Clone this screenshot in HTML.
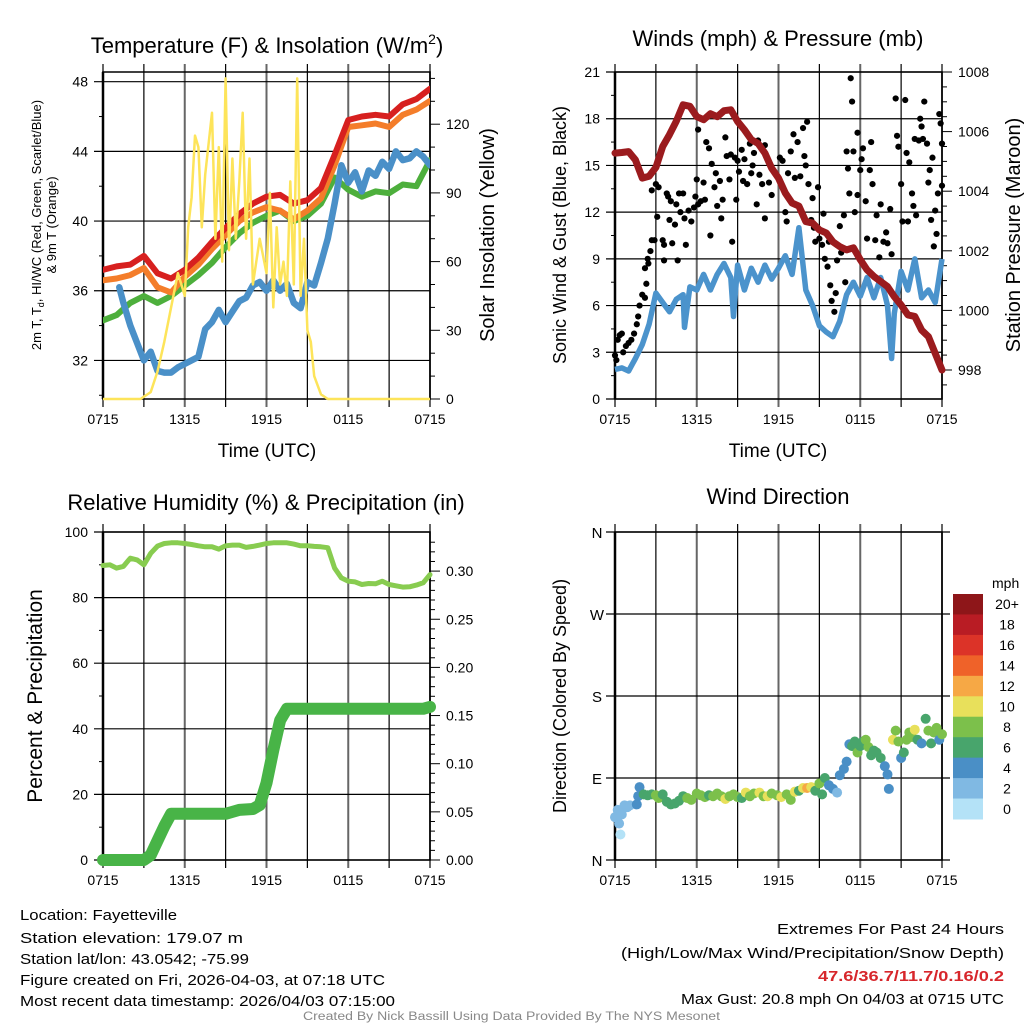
<!DOCTYPE html>
<html><head><meta charset="utf-8">
<style>
html,body{margin:0;padding:0;background:#fff;}
svg{display:block;font-family:"Liberation Sans",sans-serif;}
</style></head>
<body>
<svg id="s" width="1024" height="1024" viewBox="0 0 1024 1024"></svg>
<script>
// ---------- DATA ----------
const hours = [0,1,2,3,4,5,6,7,8,9,10,11,12,13,14,15,16,17,18,19,20,21,22,23,24];
const tempRed = [37.2,37.4,37.5,38.0,37.0,36.7,37.2,37.9,38.8,39.6,40.4,41.0,41.4,41.5,41.0,41.2,41.9,43.8,45.8,46.0,46.1,46.0,46.7,47.0,47.6];
const tempOrange = [36.6,36.7,36.9,37.3,36.2,35.9,36.8,37.5,38.4,39.2,40.0,40.5,40.8,40.6,40.1,40.6,41.3,43.2,45.4,45.5,45.6,45.4,46.1,46.4,46.9];
const tempGreen = [34.3,34.6,35.3,35.7,35.3,35.7,36.3,36.9,37.6,38.5,39.3,39.9,40.3,40.6,40.0,40.3,41.0,42.5,41.8,41.4,41.7,41.6,42.1,42.0,43.5];
const halfHours = [1.2,1.5,2,2.5,3,3.5,4,4.5,5,5.5,6,6.5,7,7.5,8,8.5,9,9.5,10,10.5,11,11.5,12,12.5,13,13.5,14,14.5,15,15.5,16,16.5,17,17.5,18,18.5,19,19.5,20,20.5,21,21.5,22,22.5,23,23.5,24];
const dewBlue = [36.2,35.3,34.0,33.0,32.0,32.5,31.4,31.3,31.3,31.6,31.8,32.0,32.2,33.8,34.2,34.9,34.2,34.8,35.4,35.6,36.3,36.5,36.0,36.6,36.0,36.4,35.3,35.0,36.5,36.3,37.6,39.0,41.0,43.2,42.2,42.8,41.7,42.9,42.6,43.4,43.0,44.0,43.5,43.6,44.0,43.7,43.2];
const solarTimes = [0,2.75,3,3.5,4,4.5,5,5.5,6,6.25,6.5,6.75,7,7.25,7.5,8,8.25,8.5,8.75,9,9.25,9.5,9.75,10,10.25,10.5,10.75,11,11.5,12,12.25,12.5,12.75,13,13.25,13.5,13.75,14,14.25,14.5,14.75,15,15.25,15.5,16,16.5,24];
const solarVals = [0,0,1,3,12,25,40,55,45,75,88,115,110,75,98,125,70,110,60,140,65,105,70,95,125,70,105,50,70,55,90,40,75,50,60,45,95,50,140,45,70,30,25,10,2,0,0];
const windHours = [0,0.5,1,1.5,2,2.5,3,3.5,4,4.5,5,5.1,5.5,6,6.5,7,7.5,8,8.5,8.7,9,9.5,10,10.5,11,11.5,12,12.5,13,13.5,14,14.5,15,15.5,16,16.5,17,17.5,18,18.5,19,19.5,20,20.3,20.5,21,21.5,22,22.5,23,23.5,24];
const windSpeed = [1.9,2.0,1.8,2.6,3.5,4.8,6.8,6.2,5.6,6.4,6.7,4.6,7.2,7.0,8.0,7.0,8.0,8.7,7.8,5.3,8.6,7.0,8.4,7.5,8.6,7.7,8.4,9.2,8.0,11.0,7.0,6.0,4.7,4.3,4.0,5.0,6.7,7.5,6.6,7.8,6.5,7.8,6.0,2.6,5.5,8.2,7.0,9.0,6.5,7.0,6.2,9.0];
const pressure = [1005.28,1005.3,1005.33,1005.05,1004.44,1004.5,1004.8,1005.5,1005.9,1006.35,1006.9,1006.85,1006.5,1006.4,1006.6,1006.5,1006.7,1006.73,1006.34,1006.06,1005.73,1005.6,1005.28,1004.77,1004.44,1003.94,1003.6,1003.5,1002.98,1002.93,1002.7,1002.6,1002.3,1002.14,1002.03,1002.1,1001.7,1001.36,1001.14,1000.97,1000.8,1000.46,1000.18,999.85,999.8,999.34,999.12,998.56,998.0];
const gustTimes = [0,0.1,0.2,0.35,0.5,0.6,0.8,1.0,1.2,1.4,1.6,1.7,1.8,2.0,2.2,2.3,2.2,2.4,2.45,2.6,2.7,2.9,2.7,3.0,3.2,3.1,3.5,3.6,3.6,3.8,3.9,4.0,4.1,4.2,4.4,4.5,4.6,4.7,4.8,5.0,5.1,5.2,5.4,5.6,5.8,5.9,6.0,6.1,6.1,6.3,6.5,6.6,6.7,6.9,7.0,7.1,7.3,7.4,7.5,7.7,7.8,7.9,8.1,8.2,8.4,8.5,8.6,8.8,8.9,9.0,9.1,9.3,9.4,9.5,9.7,9.9,10.0,10.1,10.2,10.4,10.5,10.6,10.8,11.0,11.0,11.3,11.5,11.9,12.1,12.3,12.5,12.6,12.7,12.9,13.1,13.2,13.4,13.6,13.8,13.9,14.0,14.1,14.2,14.4,14.5,14.6,14.7,14.9,15.0,15.2,15.3,15.4,15.6,15.7,15.8,15.9,16.1,16.2,16.3,16.5,16.6,16.8,16.9,17.0,17.1,17.2,17.3,17.4,17.5,17.6,17.8,17.8,18.0,18.1,18.2,18.4,18.5,18.7,18.8,18.9,19.1,19.2,19.4,19.5,19.7,19.9,20.0,20.2,20.3,20.6,20.7,20.8,21.0,21.1,21.3,21.4,21.5,21.6,21.8,21.9,22.0,22.1,22.3,22.4,22.5,22.6,22.7,22.9,23.0,23.1,23.2,23.3,23.4,23.5,23.6,23.7,23.8,23.9,24.0,24.0];
const gustVals = [2.8,2.5,3.8,4.1,4.2,3.0,3.4,3.6,3.8,4.2,4.8,5.3,6.0,6.7,6.5,7.4,8.4,9.0,8.7,9.5,10.2,10.2,13.4,13.8,13.6,11.7,10.2,9.9,8.9,13.2,13.0,11.5,12.7,10.0,11.2,12.5,8.9,13.2,12.0,13.2,11.6,9.9,12.1,11.4,12.3,13.0,14.1,12.5,17.3,12.7,13.9,12.8,16.5,16.1,10.5,15.1,13.6,14.5,12.4,14.0,11.6,12.8,16.8,15.6,14.1,15.7,10.1,15.5,12.8,15.3,14.6,16.0,14.0,15.4,13.8,16.4,14.5,15.0,15.8,12.5,16.6,14.4,13.8,16.3,11.6,13.9,13.1,14.3,15.5,15.3,12.0,11.4,14.5,15.9,17.0,14.2,16.5,14.3,17.4,15.6,15.0,17.8,13.8,11.5,12.9,11.0,10.1,13.6,10.3,9.9,11.9,9.0,8.5,10.1,7.3,6.3,5.6,6.8,8.9,11.1,9.4,11.8,7.5,15.9,14.8,13.2,20.6,19.1,15.9,12.0,13.1,17.1,14.7,15.4,16.1,12.7,10.3,14.7,16.5,13.8,10.2,11.8,9.1,12.5,10.1,10.7,10.0,12.2,9.3,19.3,16.9,16.2,13.8,11.4,19.2,15.8,11.4,15.2,13.2,12.4,16.7,11.8,16.6,18.0,17.5,16.7,19.1,16.4,13.9,14.7,11.5,15.5,9.8,12.1,10.6,13.2,18.3,17.7,13.7,16.4,14.4,15.5,20.8];
const rhVals = [89.8,90,89,89.5,92,91.5,90,93.5,95.7,96.5,96.7,96.7,96.5,96.2,95.8,95.5,95.5,94.8,95.8,96.0,96.0,95.3,95.6,96.0,96.5,96.7,96.7,96.7,96.3,95.8,95.8,95.6,95.5,95.2,89.0,86.0,85.0,84.8,84.0,84.3,84.2,85.0,84.0,83.6,83.2,83.3,83.8,84.5,87.0];
const precipTimes = [0,3.0,3.5,4,4.5,5,9,9.5,10,11,11.5,12,12.5,13,13.5,23.5,24];
const precipVals = [0,0,0.005,0.02,0.035,0.048,0.048,0.05,0.052,0.053,0.057,0.08,0.114,0.145,0.157,0.157,0.159];
const dirTimes = [0,0.2,0.3,0.4,0.5,0.7,0.9,1.1,1.6,1.7,1.8,2.1,2.4,2.7,3.0,3.2,3.5,3.8,4.1,4.4,4.7,5.0,5.3,5.6,6.0,6.3,6.6,6.9,7.2,7.5,7.8,8.1,8.4,8.7,9.0,9.3,9.6,9.9,10.2,10.6,10.9,11.2,11.5,11.9,12.2,12.6,12.9,13.2,13.5,13.8,14.1,14.4,14.7,15.0,15.2,15.4,15.7,16.0,16.3,16.5,16.8,17.0,17.2,17.4,17.6,17.8,18.0,18.2,18.4,18.6,18.8,19.0,19.2,19.5,19.8,20.0,20.1,20.4,20.6,20.8,21.0,21.2,21.4,21.6,21.8,22.0,22.2,22.5,22.8,23.0,23.2,23.4,23.6,23.8,24.0];
const dirVals = [47,55,40,28,50,60,58,60,61,70,80,72,71,72,71,68,72,64,61,62,65,70,68,66,73,71,69,71,70,73,70,67,70,72,69,68,74,70,73,74,70,70,73,71,69,72,66,75,76,79,79,80,76,84,72,90,82,78,74,93,100,108,127,125,130,118,125,130,132,124,115,120,118,112,103,94,78,132,142,130,112,118,132,140,135,143,132,128,155,142,128,140,145,132,138];
const dirSpeeds = [2,2,2,0,2,2,2,2,4,4,4,6,6,6,8,8,6,6,6,6,6,6,8,8,8,8,8,6,8,8,8,10,8,8,8,6,10,8,8,10,8,10,8,8,10,8,8,10,6,10,12,10,6,8,6,6,4,4,2,4,4,4,4,6,6,8,6,6,8,8,6,6,6,6,4,4,4,10,8,8,4,6,8,8,8,10,6,4,6,8,6,8,8,4,8];
const speedBins = ["0","2","4","6","8","10","12","14","16","18","20+"];
const binColors = ["#b4e2f7","#80b9e3","#4a8fc6","#48a56c","#7cc04b","#e8e05b","#f6a845","#ef6229","#dc3328","#b91c24","#8e1619"];
const timeLabels = ["0715","1315","1915","0115","0715"];

// ---------- HELPERS ----------
const NS="http://www.w3.org/2000/svg";
const svg=document.getElementById('s');
function el(tag,attrs,parent){const e=document.createElementNS(NS,tag);for(const k in attrs)e.setAttribute(k,attrs[k]);(parent||svg).appendChild(e);return e;}
function txt(str,attrs,parent){const e=el('text',attrs,parent);e.textContent=str;return e;}
function pathD(xs,ys,fx,fy){return xs.map((v,i)=>(i?'L':'M')+fx(v).toFixed(1)+' '+fy(ys[i]).toFixed(1)).join(' ');}

function frame(g,x0,x1,y0,y1){
  for(let h=0;h<=24;h+=3){const x=x0+(x1-x0)*h/24;
    const l=el('line',{x1:x,x2:x,y1:y0-8,y2:y1+8,stroke:(h%6==0)?'#666':'#000','stroke-width':(h%6==0)?2:1.2},g);
    
    }
  const r=el('rect',{x:x0,y:y0,width:x1-x0,height:y1-y0,fill:'none',stroke:'#000','stroke-width':1.5},g);
  
  
  el('line',{x1:x0,x2:x0,y1:y0,y2:y1,stroke:'#000','stroke-width':2.5},g);
}
function xLabels(g,x0,x1,y){
  timeLabels.forEach((t,i)=>{const e=txt(t,{x:x0+(x1-x0)*i/4,y:y,'font-size':14,'text-anchor':'middle'},g);
    
    });
}
function hGrid(g,x0,x1,y,lab,side,minor){
  if(!minor){const l=el('line',{x1:x0-9,x2:x1,y1:y,y2:y,stroke:'#000','stroke-width':1.2},g);
    
    }
  else el('line',{x1:x0-4,x2:x0,y1:y,y2:y,stroke:'#000','stroke-width':1},g);
  if(lab!==null){const e=txt(lab,{x:x0-15,y:y+5,'font-size':14,'text-anchor':'end'},g);
    
    }
}
function rTick(g,x1,y,lab,minor){
  el('line',{x1:x1,x2:x1+(minor?5:10),y1:y,y2:y,stroke:'#000','stroke-width':1},g);
  if(lab!==null){const e=txt(lab,{x:x1+16,y:y+5,'font-size':14},g);
    
    }
}
function vtext(str,x,y,size,parent,name){const e=txt(str,{x:0,y:0,'font-size':size,'text-anchor':'middle',transform:`translate(${x},${y}) rotate(-90)`},parent);
  
  return e;}
function evenHours(n){const a=[];for(let i=0;i<n;i++)a.push(i*24/(n-1));return a;}

// ================= PANEL 1: Temperature =================
{
const g=el('g',{});


const X0=103,X1=430,Y0=72,Y1=399;
const fx=h=>X0+(X1-X0)*h/24;
const fy=v=>81.7+(48-v)*17.42;
const fr=v=>399-v*2.29;
frame(g,X0,X1,Y0,Y1);
for(let v=30;v<=48;v+=2){const major=v%4==0;hGrid(g,X0,X1,fy(v),major?String(v):null,'l',!major);}
for(let v=0;v<=140;v+=10){rTick(g,X1,fr(v),v%30==0?String(v):null,v%30!=0);}
const clip=el('clipPath',{id:'c1'},g);el('rect',{x:X0,y:Y0,width:X1-X0,height:Y1-Y0+3},clip);
const pg=el('g',{'clip-path':'url(#c1)'},g);
const ps=[[hours,tempGreen,'#4daf3c','green-dewpoint-line'],[hours,tempOrange,'#f47d2a','orange-9m-temp-line'],[hours,tempRed,'#d7201f','red-2m-temp-line']];
ps.forEach(([xs,ys,c,n])=>{const p=el('path',{d:pathD(xs,ys,fx,fy),fill:'none',stroke:c,'stroke-width':6,'stroke-linejoin':'round','stroke-linecap':'round'},pg);
  
  });
const b=el('path',{d:pathD(halfHours,dewBlue,fx,fy),fill:'none',stroke:'#4a90c8','stroke-width':6.5,'stroke-linejoin':'round','stroke-linecap':'round'},pg);


const y=el('path',{d:pathD(solarTimes,solarVals,fx,fr),fill:'none',stroke:'#fde45a','stroke-width':2.5,'stroke-linejoin':'round'},pg);


xLabels(g,X0,X1,424);
const t=txt('Time (UTC)',{x:267,y:457,'font-size':19,'text-anchor':'middle'},g);


const ti=el('text',{x:267,y:53,'font-size':22,'text-anchor':'middle'},g);


ti.innerHTML='Temperature (F) &amp; Insolation (W/m<tspan font-size="14" dy="-9">2</tspan><tspan dy="9">)</tspan>';
const yl=el('text',{x:0,y:0,'font-size':13,'text-anchor':'middle',transform:'translate(41,225) rotate(-90)'},g);


yl.innerHTML='2m T, T<tspan font-size="9" dy="3">d</tspan><tspan dy="-3">, HI/WC (Red, Green, Scarlet/Blue)</tspan>';
vtext('& 9m T (Orange)',56,225,13,g,'y-axis-title-line2');
vtext('Solar Insolation (Yellow)',494,235,20,g,'right-axis-title');
}

// ================= PANEL 2: Winds =================
{
const g=el('g',{});


const X0=615,X1=942,Y0=72,Y1=399;
const fx=h=>X0+(X1-X0)*h/24;
const fy=v=>399-v*327/21;
const fp=p=>370-(p-998)*29.8;
frame(g,X0,X1,Y0,Y1);
for(let v=0;v<=21;v+=1.5){const major=v%3==0;hGrid(g,X0,X1,fy(v),major?String(v):null,'l',!major);}
for(let p=997.5;p<=1008;p+=0.5){const maj=Math.abs(p%2)<1e-6;rTick(g,X1,fp(p),maj?String(p):null,!maj);}
const clip=el('clipPath',{id:'c2'},g);el('rect',{x:X0-5,y:Y0-5,width:X1-X0+10,height:Y1-Y0+5},clip);
const pg=el('g',{'clip-path':'url(#c2)'},g);
const b=el('path',{d:pathD(windHours,windSpeed,fx,fy),fill:'none',stroke:'#4b93cc','stroke-width':5.5,'stroke-linejoin':'round'},pg);


gustTimes.forEach((t,i)=>{const c=el('circle',{cx:fx(t),cy:fy(gustVals[i]),r:3.1,fill:'#000'},pg);
  
  });
const pr=el('path',{d:pathD(evenHours(pressure.length),pressure,fx,fp),fill:'none',stroke:'#9b1b1e','stroke-width':7,'stroke-linejoin':'round','stroke-linecap':'round'},pg);


xLabels(g,X0,X1,424);
const t=txt('Time (UTC)',{x:778,y:457,'font-size':19,'text-anchor':'middle'},g);


const ti=txt('Winds (mph) & Pressure (mb)',{x:778,y:46,'font-size':22,'text-anchor':'middle'},g);


vtext('Sonic Wind & Gust (Blue, Black)',566,235,18,g,'y-axis-title');
vtext('Station Pressure (Maroon)',1020,235,20,g,'right-axis-title');
}

// ================= PANEL 3: RH & Precip =================
{
const g=el('g',{});


const X0=103,X1=430,Y0=532,Y1=860;
const fx=h=>X0+(X1-X0)*h/24;
const fy=v=>860-v*3.28;
const fpr=p=>860-p*963;
frame(g,X0,X1,Y0,Y1);
for(let v=0;v<=100;v+=10){const major=v%20==0;hGrid(g,X0,X1,fy(v),major?String(v):null,'l',!major);}
for(let i=0;i<=33;i++){const p=i/100;const maj=i%5==0;rTick(g,X1,fpr(p),maj?p.toFixed(2):null,!maj);}
const rh=el('path',{d:pathD(evenHours(rhVals.length),rhVals,fx,fy),fill:'none',stroke:'#88cc50','stroke-width':5,'stroke-linejoin':'round','stroke-linecap':'round'},g);


const pp=el('path',{d:pathD(precipTimes,precipVals,fx,fpr),fill:'none',stroke:'#48b447','stroke-width':12,'stroke-linejoin':'round','stroke-linecap':'round'},g);


xLabels(g,X0,X1,885);
const ti=txt('Relative Humidity (%) & Precipitation (in)',{x:266,y:510,'font-size':22,'text-anchor':'middle'},g);


vtext('Percent & Precipitation',42,696,21,g,'y-axis-title');
}

// ================= PANEL 4: Wind direction =================
{
const g=el('g',{});


const X0=615,X1=942,Y0=532,Y1=860;
const fx=h=>X0+(X1-X0)*h/24;
const fy=d=>860-d*328/360;
frame(g,X0,X1,Y0,Y1);
['N','E','S','W','N'].forEach((l,i)=>{hGrid(g,X0,X1+8,fy(i*90),null,'l',false);
  const e=txt(l,{x:597,y:fy(i*90)+6,'font-size':15,'text-anchor':'middle'},g);
  
  });
dirTimes.forEach((t,i)=>{const bi=Math.min(10,Math.round(dirSpeeds[i]/2));
  const c=el('circle',{cx:fx(t),cy:fy(dirVals[i]),r:5,fill:binColors[bi]},g);
  
  });
xLabels(g,X0,X1,885);
const ti=txt('Wind Direction',{x:778,y:504,'font-size':22,'text-anchor':'middle'},g);


vtext('Direction (Colored By Speed)',566,696,18,g,'y-axis-title');
const lg=el('g',{},g);


const m=txt('mph',{x:992,y:588,'font-size':14},lg);


const bh=(819-594)/11;
speedBins.forEach((s,i)=>{const k=10-i;const y=594+i*bh;
  const r=el('rect',{x:953,y:y,width:30,height:bh+0.5,fill:binColors[k]},lg);
  
  
  const e=txt(speedBins[k],{x:1007,y:y+bh/2+5,'font-size':14,'text-anchor':'middle'},lg);
  
  });
}

// ================= FOOTER =================
{
const g=el('g',{});


const left=[['Location: Fayetteville',920,157],['Station elevation: 179.07 m',943,223],['Station lat/lon: 43.0542; -75.99',964,229],['Figure created on Fri, 2026-04-03, at 07:18 UTC',985,365],['Most recent data timestamp: 2026/04/03 07:15:00',1006,375]];
left.forEach(([s,y,w])=>{const e=txt(s,{x:20,y:y,'font-size':15,textLength:w,lengthAdjust:'spacingAndGlyphs'},g);
  
  });
const right=[['Extremes For Past 24 Hours',934,227,'#000','normal'],['(High/Low/Max Wind/Precipitation/Snow Depth)',958,383,'#000','normal'],['47.6/36.7/11.7/0.16/0.2',981,186,'#d7262b','bold'],['Max Gust: 20.8 mph On 04/03 at 0715 UTC',1004,323,'#000','normal']];
right.forEach(([s,y,w,c,fw])=>{const e=txt(s,{x:1004-w,y:y,'font-size':15,fill:c,'font-weight':fw,textLength:w,lengthAdjust:'spacingAndGlyphs'},g);
  
  });
const cr=txt('Created By Nick Bassill Using Data Provided By The NYS Mesonet',{x:303,y:1020,'font-size':11.5,fill:'#888',textLength:417,lengthAdjust:'spacingAndGlyphs'},g);


}
</script>
</body></html>
